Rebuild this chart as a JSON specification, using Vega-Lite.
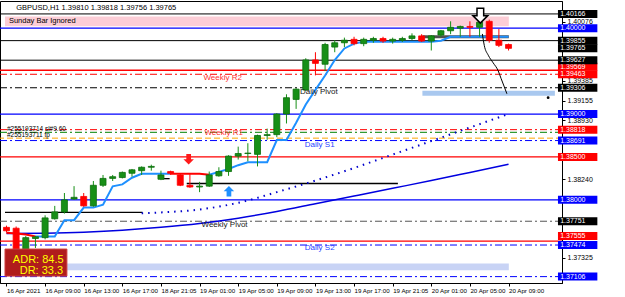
{
  "$schema": "https://vega.github.io/schema/vega-lite/v6.json",
  "width": 562,
  "height": 282,
  "autosize": {"type": "none"},
  "padding": {"left": 0, "top": 1, "right": 63, "bottom": 14},
  "background": "#ffffff",
  "view": {"stroke": "#000000", "strokeWidth": 1},
  "config": {"font": "Liberation Sans"},
  "datasets": {
    "candles": [
      {"i": 0, "o": 1.3768, "h": 1.3770, "l": 1.3762, "c": 1.3764},
      {"i": 1, "o": 1.3767, "h": 1.3769, "l": 1.3715, "c": 1.3720},
      {"i": 2, "o": 1.3722, "h": 1.3758, "l": 1.3718, "c": 1.3756},
      {"i": 3, "o": 1.3755, "h": 1.3758, "l": 1.3744, "c": 1.3757},
      {"i": 4, "o": 1.3756, "h": 1.3782, "l": 1.3754, "c": 1.3779},
      {"i": 5, "o": 1.3778, "h": 1.3793, "l": 1.3777, "c": 1.3786},
      {"i": 6, "o": 1.3786, "h": 1.3808, "l": 1.3784, "c": 1.3800},
      {"i": 7, "o": 1.3801, "h": 1.3816, "l": 1.3800, "c": 1.3803},
      {"i": 8, "o": 1.3804, "h": 1.3808, "l": 1.3792, "c": 1.3793},
      {"i": 9, "o": 1.3793, "h": 1.3822, "l": 1.3792, "c": 1.3817},
      {"i": 10, "o": 1.3817, "h": 1.3829, "l": 1.3815, "c": 1.3825},
      {"i": 11, "o": 1.3825, "h": 1.3829, "l": 1.3822, "c": 1.3827},
      {"i": 12, "o": 1.3826, "h": 1.3833, "l": 1.3825, "c": 1.3832},
      {"i": 13, "o": 1.3831, "h": 1.3836, "l": 1.3827, "c": 1.3835},
      {"i": 14, "o": 1.3834, "h": 1.3839, "l": 1.3829, "c": 1.3838},
      {"i": 15, "o": 1.3838, "h": 1.3841, "l": 1.3834, "c": 1.3839},
      {"i": 16, "o": 1.3824, "h": 1.3834, "l": 1.3823, "c": 1.3829},
      {"i": 17, "o": 1.3833, "h": 1.3834, "l": 1.3829, "c": 1.3831},
      {"i": 18, "o": 1.3829, "h": 1.3830, "l": 1.3816, "c": 1.3817},
      {"i": 19, "o": 1.3817, "h": 1.3830, "l": 1.3814, "c": 1.3815},
      {"i": 20, "o": 1.3815, "h": 1.3821, "l": 1.3809, "c": 1.3816},
      {"i": 21, "o": 1.3816, "h": 1.3833, "l": 1.3815, "c": 1.3829},
      {"i": 22, "o": 1.3828, "h": 1.3838, "l": 1.3827, "c": 1.3833},
      {"i": 23, "o": 1.3833, "h": 1.3852, "l": 1.3828, "c": 1.3851},
      {"i": 24, "o": 1.3851, "h": 1.3862, "l": 1.3847, "c": 1.3854},
      {"i": 25, "o": 1.3854, "h": 1.3866, "l": 1.3845, "c": 1.38545},
      {"i": 26, "o": 1.3853, "h": 1.3876, "l": 1.3839, "c": 1.3875},
      {"i": 27, "o": 1.3875, "h": 1.3883, "l": 1.3870, "c": 1.3876},
      {"i": 28, "o": 1.3876, "h": 1.3901, "l": 1.3873, "c": 1.3900},
      {"i": 29, "o": 1.3900, "h": 1.3923, "l": 1.3889, "c": 1.3919},
      {"i": 30, "o": 1.3917, "h": 1.3930, "l": 1.3906, "c": 1.3929},
      {"i": 31, "o": 1.3928, "h": 1.3965, "l": 1.3927, "c": 1.3963},
      {"i": 32, "o": 1.3963, "h": 1.3972, "l": 1.3945, "c": 1.3959},
      {"i": 33, "o": 1.3958, "h": 1.3983, "l": 1.3950, "c": 1.3981},
      {"i": 34, "o": 1.3978, "h": 1.3986, "l": 1.3972, "c": 1.3983},
      {"i": 35, "o": 1.3983, "h": 1.3989, "l": 1.3978, "c": 1.3986},
      {"i": 36, "o": 1.3987, "h": 1.3990, "l": 1.3980, "c": 1.3982},
      {"i": 37, "o": 1.3982, "h": 1.3989, "l": 1.3979, "c": 1.3987},
      {"i": 38, "o": 1.3986, "h": 1.3990, "l": 1.3983, "c": 1.3988},
      {"i": 39, "o": 1.3988, "h": 1.3990, "l": 1.3983, "c": 1.3985},
      {"i": 40, "o": 1.3985, "h": 1.3989, "l": 1.3982, "c": 1.3987},
      {"i": 41, "o": 1.3986, "h": 1.3990, "l": 1.3984, "c": 1.3988},
      {"i": 42, "o": 1.3988, "h": 1.3994, "l": 1.3986, "c": 1.3991},
      {"i": 43, "o": 1.3991, "h": 1.3993, "l": 1.3984, "c": 1.3985},
      {"i": 44, "o": 1.3985, "h": 1.3992, "l": 1.3974, "c": 1.3991},
      {"i": 45, "o": 1.3992, "h": 1.3998, "l": 1.3990, "c": 1.3997},
      {"i": 46, "o": 1.3997, "h": 1.4008, "l": 1.3993, "c": 1.4001},
      {"i": 47, "o": 1.4000, "h": 1.4003, "l": 1.3990, "c": 1.4002},
      {"i": 48, "o": 1.4002, "h": 1.4008, "l": 1.3990, "c": 1.4001},
      {"i": 49, "o": 1.4001, "h": 1.4009, "l": 1.3990, "c": 1.4007},
      {"i": 50, "o": 1.4008, "h": 1.4010, "l": 1.3983, "c": 1.3986},
      {"i": 51, "o": 1.3986, "h": 1.3999, "l": 1.3978, "c": 1.3980},
      {"i": 52, "o": 1.3981, "h": 1.3982, "l": 1.3974, "c": 1.39765}
    ],
    "step": [
      {"i": 0, "p": 1.37618, "s": "a"}, {"i": 1, "p": 1.37607, "s": "a"}, {"i": 2, "p": 1.37596, "s": "a"}, {"i": 3, "p": 1.37573, "s": "a"},
      {"i": 3, "p": 1.37573, "s": "b"}, {"i": 4, "p": 1.37573, "s": "b"}, {"i": 5, "p": 1.37573, "s": "b"}, {"i": 6, "p": 1.37764, "s": "b"},
      {"i": 7, "p": 1.37764, "s": "b"}, {"i": 8, "p": 1.3791, "s": "b"}, {"i": 9, "p": 1.3791, "s": "b"}, {"i": 10, "p": 1.37944, "s": "b"},
      {"i": 11, "p": 1.38157, "s": "b"}, {"i": 12, "p": 1.3818, "s": "b"}, {"i": 13, "p": 1.38258, "s": "b"}, {"i": 14, "p": 1.38303, "s": "b"},
      {"i": 15, "p": 1.38303, "s": "b"}, {"i": 16, "p": 1.38303, "s": "b"}, {"i": 17, "p": 1.38303, "s": "b"},
      {"i": 17, "p": 1.38303, "s": "c"}, {"i": 18, "p": 1.38303, "s": "c"}, {"i": 19, "p": 1.38303, "s": "c"}, {"i": 20, "p": 1.38303, "s": "c"}, {"i": 21, "p": 1.38292, "s": "c"},
      {"i": 21, "p": 1.38292, "s": "d"}, {"i": 22, "p": 1.38326, "s": "d"}, {"i": 23, "p": 1.3836, "s": "d"}, {"i": 24, "p": 1.38404, "s": "d"},
      {"i": 25, "p": 1.38438, "s": "d"}, {"i": 26, "p": 1.38438, "s": "d"}, {"i": 27, "p": 1.38438, "s": "d"}, {"i": 28, "p": 1.38697, "s": "d"},
      {"i": 29, "p": 1.38697, "s": "d"}, {"i": 30, "p": 1.38899, "s": "d"}, {"i": 31, "p": 1.39112, "s": "d"}, {"i": 32, "p": 1.39281, "s": "d"},
      {"i": 33, "p": 1.39449, "s": "d"}, {"i": 34, "p": 1.39629, "s": "d"}, {"i": 35, "p": 1.39764, "s": "d"}, {"i": 36, "p": 1.3982, "s": "d"},
      {"i": 37, "p": 1.39843, "s": "d"}, {"i": 38, "p": 1.39843, "s": "d"}, {"i": 39, "p": 1.39843, "s": "d"}, {"i": 40, "p": 1.39843, "s": "d"},
      {"i": 41, "p": 1.39843, "s": "d"}, {"i": 42, "p": 1.39843, "s": "d"}, {"i": 43, "p": 1.39843, "s": "d"}, {"i": 44, "p": 1.39843, "s": "d"},
      {"i": 45, "p": 1.39854, "s": "d"}, {"i": 46, "p": 1.39899, "s": "d"}, {"i": 47, "p": 1.39899, "s": "d"}, {"i": 48, "p": 1.39899, "s": "d"},
      {"i": 49, "p": 1.39899, "s": "d"}, {"i": 50, "p": 1.39899, "s": "d"}, {"i": 51, "p": 1.39899, "s": "d"}, {"i": 52, "p": 1.39899, "s": "d"}
    ],
    "ma": [
      {"i": 0, "p": 1.37607}, {"i": 4, "p": 1.37612}, {"i": 8, "p": 1.37624}, {"i": 12, "p": 1.37646},
      {"i": 16, "p": 1.3768}, {"i": 20, "p": 1.37725}, {"i": 24, "p": 1.37787}, {"i": 28, "p": 1.37865},
      {"i": 32, "p": 1.37955}, {"i": 36, "p": 1.38045}, {"i": 40, "p": 1.38135}, {"i": 44, "p": 1.38225},
      {"i": 48, "p": 1.3832}, {"i": 52, "p": 1.38416}
    ],
    "dots": [
      {"i": 14, "p": 1.37843}, {"i": 16, "p": 1.37854}, {"i": 20, "p": 1.37888}, {"i": 24, "p": 1.37966},
      {"i": 28, "p": 1.3809}, {"i": 32, "p": 1.38225}, {"i": 36, "p": 1.38371}, {"i": 40, "p": 1.38528},
      {"i": 44, "p": 1.38685}, {"i": 48, "p": 1.38843}, {"i": 52, "p": 1.39}
    ],
    "segs": [
      {"i": 18.67, "i2": 40.54, "p": 1.38191},
      {"i": -0.153, "i2": 14.09, "p": 1.37854},
      {"i": 16.1, "i2": 16.9, "p": 1.38247}
    ],
    "bands_top": [{"i": 43.08, "i2": 56.8, "p": 1.3927, "p2": 1.39213}],
    "bands_bot": [{"i": 0, "i2": 52.03, "p": 1.37258, "p2": 1.3718}],
    "pink": [{"i": -0.153, "i2": 52.03, "p": 1.40135, "p2": 1.40022}],
    "grayseg": [{"i": 43.08, "i2": 52.03, "p": 1.39899}],
    "draw": [
      {"i": 49.29, "p": 1.39933}, {"i": 49.49, "p": 1.39798}, {"i": 49.9, "p": 1.39685}, {"i": 50.41, "p": 1.39596},
      {"i": 50.92, "p": 1.39506}, {"i": 51.22, "p": 1.39416}, {"i": 51.53, "p": 1.39326}, {"i": 51.83, "p": 1.39236}
    ],
    "adr": [{"i": -0.153, "i2": 6.26, "p": 1.37427, "p2": 1.37112}],
    "adrtext": [{"i": 0.66, "p": 1.37303, "t": "ADR: 84.5"}, {"i": 1.37, "p": 1.37169, "t": "DR: 33.3"}],
    "lbl_red": [{"i": 20.4, "p": 1.39416, "t": "Weekly R2"}, {"i": 20.5, "p": 1.38775, "t": "Weekly R1"}],
    "lbl_blue": [{"i": 30.9, "p": 1.3864, "t": "Daily S1"}, {"i": 30.9, "p": 1.37438, "t": "Daily S2"}],
    "lbl_black": [{"i": 30.4, "p": 1.39258, "t": "Daily Pivot"}, {"i": 20.2, "p": 1.37708, "t": "Weekly Pivot"}],
    "lbl_small": [{"i": 0.05, "p": 1.38831, "t": "#255193714 sl#9.60"}, {"i": 0.05, "p": 1.38753, "t": "#255193711 tp"}],
    "lbl_top": [{"i": 0.25, "p": 1.40079, "t": "Sunday Bar Ignored"}, {"i": 1.0, "p": 1.40236, "t": "GBPUSD,H1  1.39810 1.39818 1.39756 1.39765"}],
    "arr_red": [{"i": 18.87, "p": 1.38472}],
    "arr_blue": [{"i": 23.04, "p": 1.38101}, {"i": 4.93, "p": 1.37371}],
    "arr_black": [{"i": 49.08, "p": 1.40146}],
    "dot": [{"i": 56.1, "p": 1.39191}],
    "box_blk": [{"p": 1.40166, "t": "1.40166"}, {"p": 1.39855, "t": "1.39855"}, {"p": 1.39765, "t": "1.39765"}, {"p": 1.39627, "t": "1.39627"}, {"p": 1.39306, "t": "1.39306"}, {"p": 1.37751, "t": "1.37751"}],
    "box_red": [{"p": 1.3955, "t": "1.39569"}, {"p": 1.39462, "t": "1.39463"}, {"p": 1.38818, "t": "1.38818"}, {"p": 1.385, "t": "1.38500"}, {"p": 1.3758, "t": "1.37555"}],
    "box_blu": [{"p": 1.4, "t": "1.40000"}, {"p": 1.39, "t": "1.39000"}, {"p": 1.38691, "t": "1.38691"}, {"p": 1.38, "t": "1.38000"}, {"p": 1.37474, "t": "1.37474"}, {"p": 1.37106, "t": "1.37106"}],
    "lvl_blk": [{"p": 1.40166}, {"p": 1.39855}, {"p": 1.39627}],
    "lvl_blu": [{"p": 1.4}, {"p": 1.39}, {"p": 1.38}],
    "lvl_red": [{"p": 1.3951}, {"p": 1.385}, {"p": 1.3752}],
    "lvl_rdd": [{"p": 1.39463}, {"p": 1.38818}],
    "lvl_bkd": [{"p": 1.39306}],
    "lvl_gyd": [{"p": 1.37751}],
    "lvl_grd": [{"p": 1.38787}],
    "lvl_ord": [{"p": 1.38719}],
    "lvl_bld": [{"p": 1.38691}, {"p": 1.37474}, {"p": 1.37106}]
  },
  "layer": [
    {"data": {"name": "pink"}, "mark": {"type": "rect", "color": "#fccdd6"},
     "encoding": {"x": {"field": "i", "type": "quantitative", "title": null, "scale": {"domain": [-0.153, 57.02], "nice": false, "zero": false},
       "axis": {"values": [0, 4, 8, 12, 16, 20, 24, 28, 32, 36, 40, 44, 48, 52],
         "labelExpr": "['16 Apr 2021','16 Apr 09:00','16 Apr 13:00','16 Apr 17:00','18 Apr 21:05','19 Apr 01:00','19 Apr 05:00','19 Apr 09:00','19 Apr 13:00','19 Apr 17:00','19 Apr 21:05','20 Apr 01:00','20 Apr 05:00','20 Apr 09:00'][round(datum.value/4)]",
         "labelAlign": "left", "labelFontSize": 6.2, "labelFont": "Liberation Sans", "labelColor": "#000000", "labelPadding": 1,
         "tickSize": 3, "tickColor": "#000000", "domainColor": "#000000", "grid": false, "title": null,
         "labelOverlap": false, "labelBound": false, "labelFlush": false}},
       "x2": {"field": "i2"},
       "y": {"field": "p", "type": "quantitative", "title": null, "scale": {"domain": [1.370899, 1.402584], "nice": false, "zero": false},
         "axis": {"orient": "right", "values": [1.40076, 1.39385, 1.39155, 1.3893, 1.3824, 1.37325], "format": ".5f",
           "labelFontSize": 7, "labelFont": "Liberation Sans", "labelColor": "#000000", "labelPadding": 2,
           "tickSize": 3, "tickColor": "#000000", "domainColor": "#000000", "grid": false, "title": null,
           "labelOverlap": false, "labelBound": false, "labelFlush": false}},
       "y2": {"field": "p2"}}},
    {"data": {"name": "bands_top"}, "mark": {"type": "rect", "color": "#a9c8ef"},
     "encoding": {"x": {"field": "i", "type": "quantitative", "title": null, "scale": {"domain": [-0.153, 57.02], "nice": false, "zero": false}}, "x2": {"field": "i2"},
       "y": {"field": "p", "type": "quantitative", "title": null, "scale": {"domain": [1.370899, 1.402584], "nice": false, "zero": false}}, "y2": {"field": "p2"}}},
    {"data": {"name": "bands_bot"}, "mark": {"type": "rect", "color": "#c8d3f5"},
     "encoding": {"x": {"field": "i", "type": "quantitative", "title": null, "scale": {"domain": [-0.153, 57.02], "nice": false, "zero": false}}, "x2": {"field": "i2"},
       "y": {"field": "p", "type": "quantitative", "title": null, "scale": {"domain": [1.370899, 1.402584], "nice": false, "zero": false}}, "y2": {"field": "p2"}}},
    {"data": {"name": "lvl_blk"}, "mark": {"type": "rule", "color": "#000000", "strokeWidth": 1},
     "encoding": {"y": {"field": "p", "type": "quantitative", "title": null, "scale": {"domain": [1.370899, 1.402584], "nice": false, "zero": false}}}},
    {"data": {"name": "lvl_blu"}, "mark": {"type": "rule", "color": "#0000ff", "strokeWidth": 1.3},
     "encoding": {"y": {"field": "p", "type": "quantitative", "title": null, "scale": {"domain": [1.370899, 1.402584], "nice": false, "zero": false}}}},
    {"data": {"name": "lvl_red"}, "mark": {"type": "rule", "color": "#ff0000", "strokeWidth": 1.3},
     "encoding": {"y": {"field": "p", "type": "quantitative", "title": null, "scale": {"domain": [1.370899, 1.402584], "nice": false, "zero": false}}}},
    {"data": {"name": "lvl_rdd"}, "mark": {"type": "rule", "color": "#ff0000", "strokeWidth": 1, "strokeDash": [7, 3, 2, 3]},
     "encoding": {"y": {"field": "p", "type": "quantitative", "title": null, "scale": {"domain": [1.370899, 1.402584], "nice": false, "zero": false}}}},
    {"data": {"name": "lvl_bkd"}, "mark": {"type": "rule", "color": "#000000", "strokeWidth": 1, "strokeDash": [7, 3, 2, 3]},
     "encoding": {"y": {"field": "p", "type": "quantitative", "title": null, "scale": {"domain": [1.370899, 1.402584], "nice": false, "zero": false}}}},
    {"data": {"name": "lvl_gyd"}, "mark": {"type": "rule", "color": "#555555", "strokeWidth": 1, "strokeDash": [7, 3, 2, 3]},
     "encoding": {"y": {"field": "p", "type": "quantitative", "title": null, "scale": {"domain": [1.370899, 1.402584], "nice": false, "zero": false}}}},
    {"data": {"name": "lvl_grd"}, "mark": {"type": "rule", "color": "#008000", "strokeWidth": 1, "strokeDash": [7, 3, 2, 3]},
     "encoding": {"y": {"field": "p", "type": "quantitative", "title": null, "scale": {"domain": [1.370899, 1.402584], "nice": false, "zero": false}}}},
    {"data": {"name": "lvl_ord"}, "mark": {"type": "rule", "color": "#ffa500", "strokeWidth": 1, "strokeDash": [6, 3]},
     "encoding": {"y": {"field": "p", "type": "quantitative", "title": null, "scale": {"domain": [1.370899, 1.402584], "nice": false, "zero": false}}}},
    {"data": {"name": "lvl_bld"}, "mark": {"type": "rule", "color": "#0000ff", "strokeWidth": 1, "strokeDash": [7, 3, 2, 3]},
     "encoding": {"y": {"field": "p", "type": "quantitative", "title": null, "scale": {"domain": [1.370899, 1.402584], "nice": false, "zero": false}}}},
    {"data": {"name": "segs"}, "mark": {"type": "rule", "color": "#000000", "strokeWidth": 1.3},
     "encoding": {"x": {"field": "i", "type": "quantitative", "title": null, "scale": {"domain": [-0.153, 57.02], "nice": false, "zero": false}}, "x2": {"field": "i2"},
       "y": {"field": "p", "type": "quantitative", "title": null, "scale": {"domain": [1.370899, 1.402584], "nice": false, "zero": false}}}},
    {"data": {"name": "grayseg"}, "mark": {"type": "rule", "color": "#505050", "strokeWidth": 3},
     "encoding": {"x": {"field": "i", "type": "quantitative", "title": null, "scale": {"domain": [-0.153, 57.02], "nice": false, "zero": false}}, "x2": {"field": "i2"},
       "y": {"field": "p", "type": "quantitative", "title": null, "scale": {"domain": [1.370899, 1.402584], "nice": false, "zero": false}}}},
    {"data": {"name": "ma"}, "mark": {"type": "line", "color": "#0000e0", "strokeWidth": 1.5, "interpolate": "monotone"},
     "encoding": {"x": {"field": "i", "type": "quantitative", "title": null, "scale": {"domain": [-0.153, 57.02], "nice": false, "zero": false}},
       "y": {"field": "p", "type": "quantitative", "title": null, "scale": {"domain": [1.370899, 1.402584], "nice": false, "zero": false}}}},
    {"data": {"name": "dots"}, "mark": {"type": "line", "color": "#0000cc", "strokeWidth": 2, "strokeDash": [1.5, 5], "interpolate": "monotone"},
     "encoding": {"x": {"field": "i", "type": "quantitative", "title": null, "scale": {"domain": [-0.153, 57.02], "nice": false, "zero": false}},
       "y": {"field": "p", "type": "quantitative", "title": null, "scale": {"domain": [1.370899, 1.402584], "nice": false, "zero": false}}}},
    {"data": {"name": "step"}, "mark": {"type": "line", "strokeWidth": 2},
     "encoding": {"x": {"field": "i", "type": "quantitative", "title": null, "scale": {"domain": [-0.153, 57.02], "nice": false, "zero": false}},
       "y": {"field": "p", "type": "quantitative", "title": null, "scale": {"domain": [1.370899, 1.402584], "nice": false, "zero": false}},
       "detail": {"field": "s"},
       "color": {"field": "s", "type": "nominal", "scale": {"domain": ["a", "b", "c", "d"], "range": ["#ff0000", "#1e90ff", "#ff0000", "#1e90ff"]}, "legend": null}}},
    {"data": {"name": "candles"}, "mark": {"type": "rule", "strokeWidth": 1},
     "encoding": {"x": {"field": "i", "type": "quantitative", "title": null, "scale": {"domain": [-0.153, 57.02], "nice": false, "zero": false}},
       "y": {"field": "l", "type": "quantitative", "title": null, "scale": {"domain": [1.370899, 1.402584], "nice": false, "zero": false}},
       "y2": {"field": "h"},
       "stroke": {"condition": {"test": "datum.c >= datum.o", "value": "#178f17"}, "value": "#ff0000"}}},
    {"data": {"name": "candles"}, "mark": {"type": "bar", "size": 6, "orient": "vertical", "strokeWidth": 0.8},
     "encoding": {"x": {"field": "i", "type": "quantitative", "title": null, "scale": {"domain": [-0.153, 57.02], "nice": false, "zero": false}},
       "y": {"field": "o", "type": "quantitative", "title": null, "scale": {"domain": [1.370899, 1.402584], "nice": false, "zero": false}},
       "y2": {"field": "c"},
       "fill": {"condition": {"test": "datum.c >= datum.o", "value": "#178f17"}, "value": "#ff0000"},
       "stroke": {"condition": {"test": "datum.c >= datum.o", "value": "#0d6e0d"}, "value": "#ff0000"}}},
    {"data": {"name": "draw"}, "mark": {"type": "line", "color": "#000000", "strokeWidth": 1, "interpolate": "monotone"},
     "encoding": {"x": {"field": "i", "type": "quantitative", "title": null, "scale": {"domain": [-0.153, 57.02], "nice": false, "zero": false}},
       "y": {"field": "p", "type": "quantitative", "title": null, "scale": {"domain": [1.370899, 1.402584], "nice": false, "zero": false}}}},
    {"data": {"name": "arr_red"}, "mark": {"type": "point", "shape": "M-0.45,-1L0.45,-1L0.45,0L1,0L0,1L-1,0L-0.45,0Z", "size": 110, "filled": true, "color": "#ff1a1a", "opacity": 1},
     "encoding": {"x": {"field": "i", "type": "quantitative", "title": null, "scale": {"domain": [-0.153, 57.02], "nice": false, "zero": false}},
       "y": {"field": "p", "type": "quantitative", "title": null, "scale": {"domain": [1.370899, 1.402584], "nice": false, "zero": false}}}},
    {"data": {"name": "arr_blue"}, "mark": {"type": "point", "shape": "M-0.45,1L0.45,1L0.45,0L1,0L0,-1L-1,0L-0.45,0Z", "size": 110, "filled": true, "color": "#1e90ff", "opacity": 1},
     "encoding": {"x": {"field": "i", "type": "quantitative", "title": null, "scale": {"domain": [-0.153, 57.02], "nice": false, "zero": false}},
       "y": {"field": "p", "type": "quantitative", "title": null, "scale": {"domain": [1.370899, 1.402584], "nice": false, "zero": false}}}},
    {"data": {"name": "arr_black"}, "mark": {"type": "point", "shape": "M-0.45,-1L0.45,-1L0.45,0L1,0L0,1L-1,0L-0.45,0Z", "size": 220, "filled": true, "fill": "#ffffff", "stroke": "#000000", "strokeWidth": 1.5, "opacity": 1},
     "encoding": {"x": {"field": "i", "type": "quantitative", "title": null, "scale": {"domain": [-0.153, 57.02], "nice": false, "zero": false}},
       "y": {"field": "p", "type": "quantitative", "title": null, "scale": {"domain": [1.370899, 1.402584], "nice": false, "zero": false}}}},
    {"data": {"name": "dot"}, "mark": {"type": "point", "shape": "circle", "size": 8, "filled": true, "color": "#000000", "opacity": 1},
     "encoding": {"x": {"field": "i", "type": "quantitative", "title": null, "scale": {"domain": [-0.153, 57.02], "nice": false, "zero": false}},
       "y": {"field": "p", "type": "quantitative", "title": null, "scale": {"domain": [1.370899, 1.402584], "nice": false, "zero": false}}}},
    {"data": {"name": "lbl_red"}, "mark": {"type": "text", "align": "left", "baseline": "middle", "fontSize": 8, "color": "#ff3030"},
     "encoding": {"x": {"field": "i", "type": "quantitative", "title": null, "scale": {"domain": [-0.153, 57.02], "nice": false, "zero": false}},
       "y": {"field": "p", "type": "quantitative", "title": null, "scale": {"domain": [1.370899, 1.402584], "nice": false, "zero": false}}, "text": {"field": "t"}}},
    {"data": {"name": "lbl_blue"}, "mark": {"type": "text", "align": "left", "baseline": "middle", "fontSize": 8, "color": "#1f3fff"},
     "encoding": {"x": {"field": "i", "type": "quantitative", "title": null, "scale": {"domain": [-0.153, 57.02], "nice": false, "zero": false}},
       "y": {"field": "p", "type": "quantitative", "title": null, "scale": {"domain": [1.370899, 1.402584], "nice": false, "zero": false}}, "text": {"field": "t"}}},
    {"data": {"name": "lbl_black"}, "mark": {"type": "text", "align": "left", "baseline": "middle", "fontSize": 8, "color": "#202020"},
     "encoding": {"x": {"field": "i", "type": "quantitative", "title": null, "scale": {"domain": [-0.153, 57.02], "nice": false, "zero": false}},
       "y": {"field": "p", "type": "quantitative", "title": null, "scale": {"domain": [1.370899, 1.402584], "nice": false, "zero": false}}, "text": {"field": "t"}}},
    {"data": {"name": "lbl_small"}, "mark": {"type": "text", "align": "left", "baseline": "middle", "fontSize": 6.5, "color": "#000000"},
     "encoding": {"x": {"field": "i", "type": "quantitative", "title": null, "scale": {"domain": [-0.153, 57.02], "nice": false, "zero": false}},
       "y": {"field": "p", "type": "quantitative", "title": null, "scale": {"domain": [1.370899, 1.402584], "nice": false, "zero": false}}, "text": {"field": "t"}}},
    {"data": {"name": "lbl_top"}, "mark": {"type": "text", "align": "left", "baseline": "middle", "fontSize": 7.5, "color": "#000000"},
     "encoding": {"x": {"field": "i", "type": "quantitative", "title": null, "scale": {"domain": [-0.153, 57.02], "nice": false, "zero": false}},
       "y": {"field": "p", "type": "quantitative", "title": null, "scale": {"domain": [1.370899, 1.402584], "nice": false, "zero": false}}, "text": {"field": "t"}}},
    {"data": {"name": "adr"}, "mark": {"type": "rect", "fill": "#b01c1c", "stroke": "#d04040", "strokeWidth": 1},
     "encoding": {"x": {"field": "i", "type": "quantitative", "title": null, "scale": {"domain": [-0.153, 57.02], "nice": false, "zero": false}}, "x2": {"field": "i2"},
       "y": {"field": "p", "type": "quantitative", "title": null, "scale": {"domain": [1.370899, 1.402584], "nice": false, "zero": false}}, "y2": {"field": "p2"}}},
    {"data": {"name": "adrtext"}, "mark": {"type": "text", "align": "left", "baseline": "middle", "fontSize": 11, "color": "#ffff00"},
     "encoding": {"x": {"field": "i", "type": "quantitative", "title": null, "scale": {"domain": [-0.153, 57.02], "nice": false, "zero": false}},
       "y": {"field": "p", "type": "quantitative", "title": null, "scale": {"domain": [1.370899, 1.402584], "nice": false, "zero": false}}, "text": {"field": "t"}}},
    {"data": {"name": "box_red"}, "mark": {"type": "bar", "orient": "horizontal", "size": 8, "color": "#ff0000"},
     "encoding": {"x": {"datum": 57.12, "type": "quantitative", "title": null, "scale": {"domain": [-0.153, 57.02], "nice": false, "zero": false}}, "x2": {"datum": 61.2},
       "y": {"field": "p", "type": "quantitative", "title": null, "scale": {"domain": [1.370899, 1.402584], "nice": false, "zero": false}}}},
    {"data": {"name": "box_red"}, "mark": {"type": "text", "align": "left", "baseline": "middle", "fontSize": 7, "color": "#ffffff"},
     "encoding": {"x": {"datum": 57.35, "type": "quantitative", "title": null, "scale": {"domain": [-0.153, 57.02], "nice": false, "zero": false}},
       "y": {"field": "p", "type": "quantitative", "title": null, "scale": {"domain": [1.370899, 1.402584], "nice": false, "zero": false}}, "text": {"field": "t"}}},
    {"data": {"name": "box_blk"}, "mark": {"type": "bar", "orient": "horizontal", "size": 8, "color": "#000000"},
     "encoding": {"x": {"datum": 57.12, "type": "quantitative", "title": null, "scale": {"domain": [-0.153, 57.02], "nice": false, "zero": false}}, "x2": {"datum": 61.2},
       "y": {"field": "p", "type": "quantitative", "title": null, "scale": {"domain": [1.370899, 1.402584], "nice": false, "zero": false}}}},
    {"data": {"name": "box_blk"}, "mark": {"type": "text", "align": "left", "baseline": "middle", "fontSize": 7, "color": "#ffffff"},
     "encoding": {"x": {"datum": 57.35, "type": "quantitative", "title": null, "scale": {"domain": [-0.153, 57.02], "nice": false, "zero": false}},
       "y": {"field": "p", "type": "quantitative", "title": null, "scale": {"domain": [1.370899, 1.402584], "nice": false, "zero": false}}, "text": {"field": "t"}}},
    {"data": {"name": "box_blu"}, "mark": {"type": "bar", "orient": "horizontal", "size": 8, "color": "#0000ff"},
     "encoding": {"x": {"datum": 57.12, "type": "quantitative", "title": null, "scale": {"domain": [-0.153, 57.02], "nice": false, "zero": false}}, "x2": {"datum": 61.2},
       "y": {"field": "p", "type": "quantitative", "title": null, "scale": {"domain": [1.370899, 1.402584], "nice": false, "zero": false}}}},
    {"data": {"name": "box_blu"}, "mark": {"type": "text", "align": "left", "baseline": "middle", "fontSize": 7, "color": "#ffffff"},
     "encoding": {"x": {"datum": 57.35, "type": "quantitative", "title": null, "scale": {"domain": [-0.153, 57.02], "nice": false, "zero": false}},
       "y": {"field": "p", "type": "quantitative", "title": null, "scale": {"domain": [1.370899, 1.402584], "nice": false, "zero": false}}, "text": {"field": "t"}}}
  ]
}
